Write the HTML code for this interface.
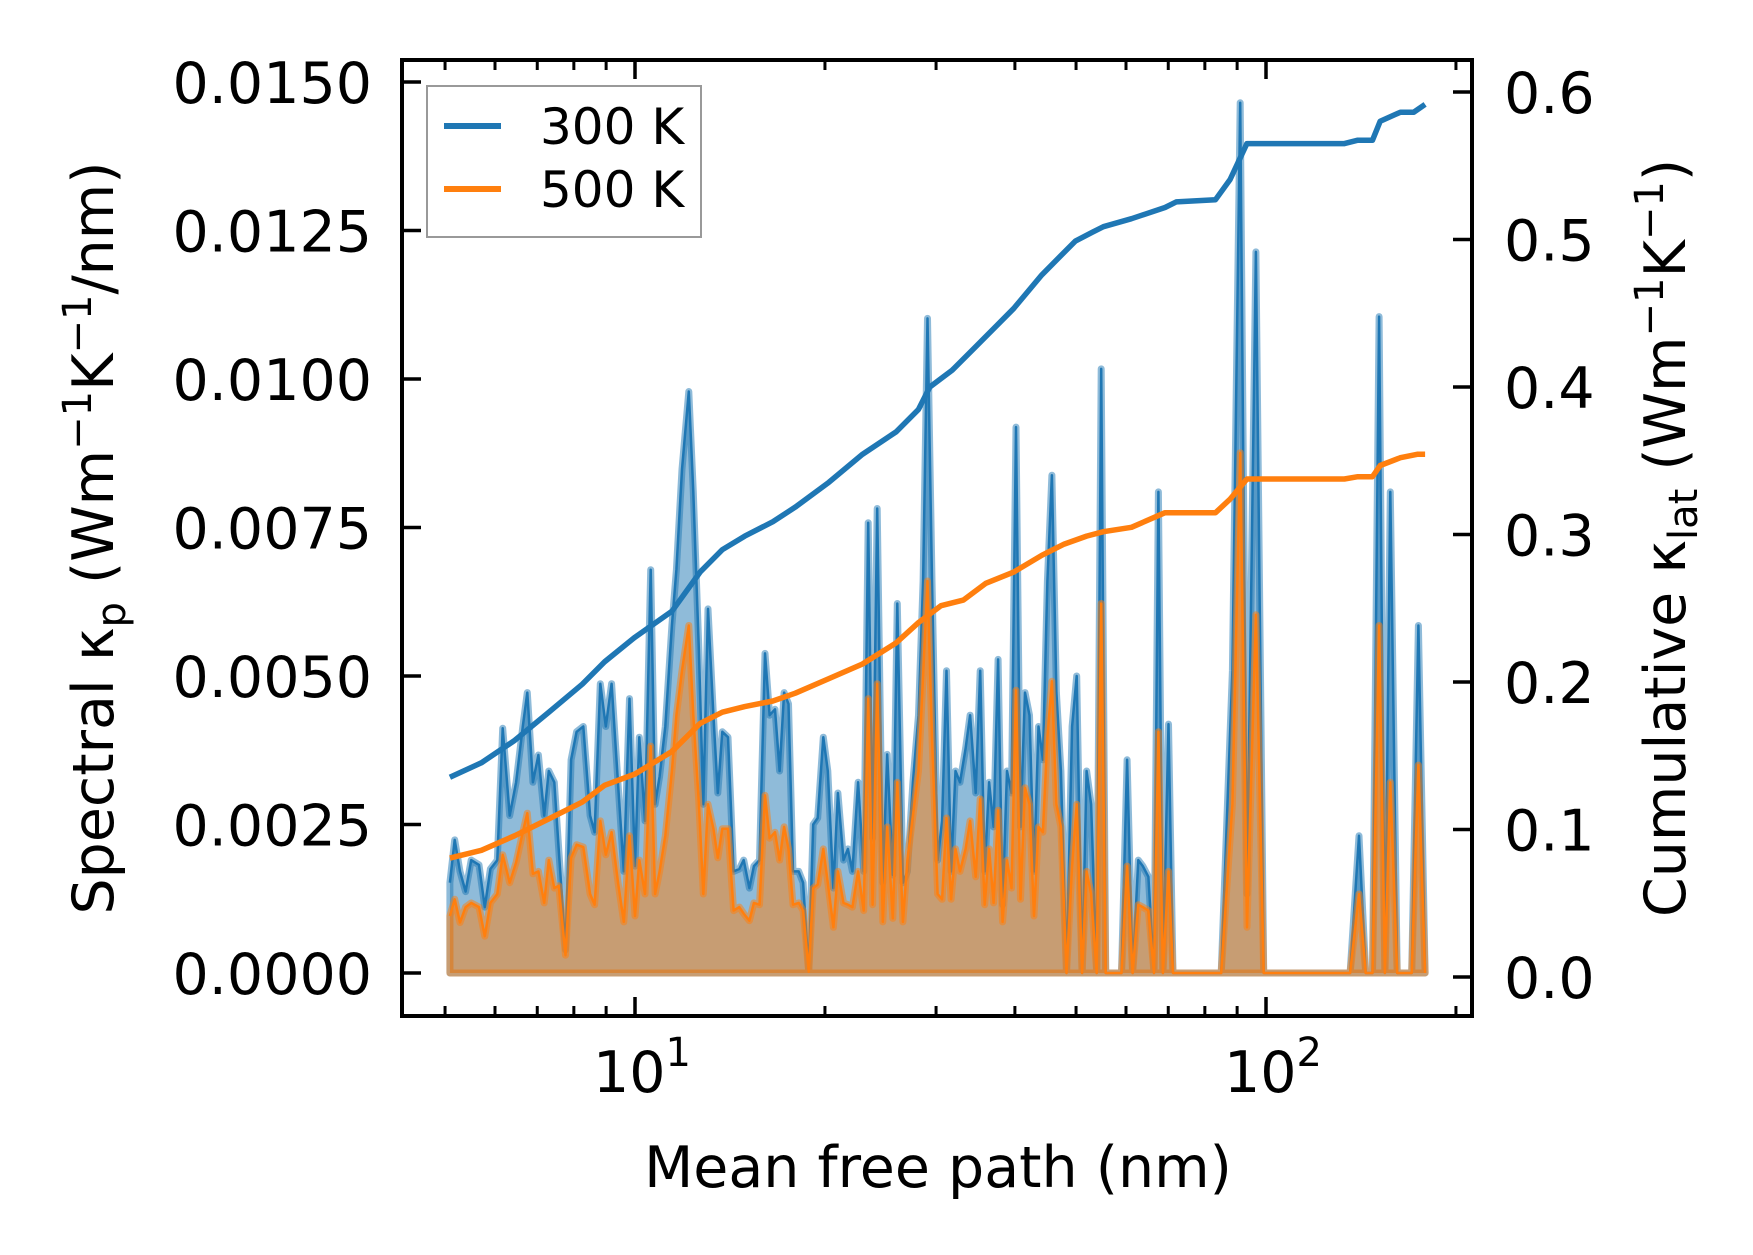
<!DOCTYPE html>
<html><head><meta charset="utf-8"><style>
html,body{margin:0;padding:0;background:#fff;}
svg{display:block;font-family:"DejaVu Sans","Liberation Sans",sans-serif;}
</style></head><body>
<svg id="chart" width="1753" height="1255" viewBox="0 0 1753 1255" xmlns="http://www.w3.org/2000/svg">
<g id="series"></g>
<g id="axes"></g>
<g id="legend">
  <rect x="427" y="86" width="274" height="151" fill="#fff" fill-opacity="0.85" stroke="#999" stroke-width="2"/>
  <line x1="444" y1="126" x2="501" y2="126" stroke="#1f77b4" stroke-width="6"/>
  <text x="540" y="144" font-size="50">300 K</text>
  <line x1="444" y1="189" x2="501" y2="189" stroke="#ff7f0e" stroke-width="6"/>
  <text x="540" y="207" font-size="50">500 K</text>
</g>
<text x="938" y="1187" font-size="57" text-anchor="middle">Mean free path (nm)</text>
<text transform="translate(113,538) rotate(-90)" font-size="57" text-anchor="middle">Spectral κ<tspan font-size="40" dy="12">p</tspan><tspan dy="-12"> (Wm</tspan><tspan font-size="40" dy="-22">−1</tspan><tspan dy="22">K</tspan><tspan font-size="40" dy="-22">−1</tspan><tspan dy="22">/nm)</tspan></text>
<text transform="translate(1685,538) rotate(-90)" font-size="57" text-anchor="middle">Cumulative κ<tspan font-size="40" dy="12">lat</tspan><tspan dy="-12"> (Wm</tspan><tspan font-size="40" dy="-22">−1</tspan><tspan dy="22">K</tspan><tspan font-size="40" dy="-22">−1</tspan><tspan dy="22">)</tspan></text>
</svg>
<script>
const mfp = [5.09,5.18,5.28,5.39,5.50,5.66,5.78,5.90,6.05,6.17,6.33,6.48,6.64,6.75,6.89,7.03,7.18,7.30,7.45,7.57,
7.76,7.92,8.08,8.28,8.49,8.63,8.81,8.99,9.18,9.41,9.60,9.80,10.0,10.16,10.37,10.59,10.76,10.94,11.17,11.44,
11.63,11.87,12.17,12.37,12.62,12.83,13.05,13.31,13.53,13.75,14.04,14.33,14.63,14.87,15.18,15.43,15.75,16.07,16.34,16.67,16.95,17.23,
17.51,17.80,18.17,18.47,18.85,19.16,19.48,19.88,20.21,20.63,20.97,21.40,21.75,22.11,22.57,23.04,23.42,23.80,24.20,24.70,25.10,25.62,26.04,
26.58,27.02,27.57,28.14,28.61,29.08,29.56,30.17,30.67,31.17,31.69,32.21,32.74,33.42,33.97,34.67,35.24,35.82,36.41,37.01,37.62,38.24,38.87,39.51,
40.16,40.83,41.50,42.19,42.88,43.59,44.31,45.04,45.78,46.54,47.31,48.29,49.29,50.11,51.12,51.97,52.83,53.92,54.81,55.72,56.64,57.81,59.02,
60.24,61.47,62.74,63.78,65.10,66.45,67.53,68.64,70.06,71.22,72.69,73.89,75.10,76.97,
83.19,84.91,88.45,91.03,93.30,96.38,99.18,104.2,135.9,140.4,143.9,147.5,151.1,154.3,157.4,161.4,164.7,170.2,174.4,178.7];
const spec300 = [.00152,.00224,.00171,.00137,.00190,.00182,.00111,.00175,.00190,.00412,.00265,.00321,.00415,.00472,.00321,.00367,.00265,.00340,.00321,.00209,
.00039,.00359,.00406,.00415,.00265,.00237,.00487,.00415,.00487,.00312,.00171,.00462,.00180,.00397,.00256,.00679,.00284,.00331,.00415,.00585,
.00679,.00848,.00979,.00810,.00547,.00284,.00613,.00434,.00303,.00406,.00397,.00171,.00175,.00190,.00143,.00180,.00190,.00538,.00434,.00444,.00340,.00472,
.00453,.00171,.00171,.00152,.00002,.00250,.00261,.00397,.00340,.00143,.00303,.00190,.00209,.00171,.00321,.00171,.00758,.00227,.00782,.00152,.00368,.00165,.00622,
.00152,.00171,.00321,.00434,.00660,.01102,.00660,.00190,.00256,.00509,.00171,.00340,.00321,.00378,.00434,.00303,.00509,.00171,.00321,.00246,.00528,.00115,.00340,.00303,
.00919,.00246,.00472,.00434,.00171,.00415,.00359,.00660,.00838,.00472,.00340,0,.00415,.00500,0,.00340,.00284,0,.01017,0,0,0,0,
.00359,0,.00190,.00180,.00162,0,.00810,0,.00419,0,0,0,0,0,
0,0,.00509,.01465,.00133,.01214,0,0,0,.00231,0,0,.01105,0,.00810,0,0,0,.00585,0];
const spec500 = [.00096,.00124,.00085,.00111,.00118,.00111,.00062,.00118,.00133,.00199,.00152,.00186,.00237,.00269,.00167,.00171,.00118,.00190,.00143,.00147,
.00030,.00194,.00216,.00212,.00133,.00115,.00256,.00199,.00237,.00149,.00086,.00231,.00096,.00190,.00133,.00382,.00133,.00171,.00231,.00340,
.00434,.00509,.00585,.00434,.00288,.00133,.00284,.00243,.00194,.00243,.00243,.00105,.00111,.00100,.00088,.00118,.00115,.00299,.00227,.00237,.00190,.00246,
.00209,.00115,.00118,.00105,.00002,.00143,.00149,.00209,.00152,.00077,.00171,.00118,.00115,.00111,.00171,.00105,.00462,.00115,.00487,.00086,.00246,.00092,.00321,
.00086,.00190,.00265,.00340,.00500,.00660,.00397,.00133,.00124,.00261,.00124,.00209,.00171,.00209,.00256,.00162,.00293,.00115,.00209,.00118,.00274,.00086,.00190,.00143,
.00476,.00124,.00312,.00284,.00096,.00246,.00237,.00397,.00491,.00284,.00246,0,.00180,.00284,0,.00171,.00133,0,.00622,0,0,0,0,
.00180,0,.00115,.00111,.00105,0,.00406,0,.00171,0,0,0,0,0,
0,0,.00284,.00876,.00077,.00603,0,0,0,.00133,0,0,.00585,0,.00321,0,0,0,.00350,0];
const cumX300 = [5.09,5.71,6.45,7.30,8.25,8.95,10.0,11.44,12.68,13.75,14.93,16.54,17.95,20.29,22.94,25.94,28.14,29.32,31.82,34.53,
37.47,39.83,44.13,46.92,49.89,53.04,55.25,61.21,69.18,72.07,83.18,87.73,93.27,133.1,139.8,147.5,151.7,163.3,171.5,178.7];
const cum300 = [.1354,.1452,.1605,.1795,.1985,.2137,.2304,.2479,.2745,.2897,.2989,.3087,.3186,.3354,.3544,.3696,.3848,.4,.4114,.4266,
.4418,.4532,.4760,.4875,.4989,.5049,.5087,.5141,.5217,.5255,.5270,.5407,.5650,.5650,.5673,.5673,.5802,.5863,.5863,.5916];
const cumX500 = [5.09,5.71,6.45,7.30,8.25,8.95,10.0,11.44,12.68,13.75,14.93,16.54,17.95,20.29,22.94,25.94,28.14,30.54,33.15,35.97,
39.83,44.13,47.89,51.97,55.25,61.21,69.18,83.18,87.73,93.27,133.1,139.8,147.5,151.7,163.3,173.6,178.7];
const cum500 = [.0806,.0859,.0958,.1072,.1186,.1300,.1376,.1529,.1719,.1795,.1833,.1871,.1924,.2023,.2122,.2266,.2403,.2517,.2555,.2669,
.2745,.2859,.2935,.2989,.3019,.3049,.3148,.3148,.3240,.3376,.3376,.3392,.3392,.3468,.3521,.3544,.3544];
const leftTicks = [0,0.0025,0.005,0.0075,0.01,0.0125,0.015];
const leftTickLabels = ["0.0000","0.0025","0.0050","0.0075","0.0100","0.0125","0.0150"];
const rightTicks = [0,0.1,0.2,0.3,0.4,0.5,0.6];
const rightTickLabels = ["0.0","0.1","0.2","0.3","0.4","0.5","0.6"];
const xMajor = [10,100];
const xMajorExp = ["1","2"];
const xMinor = [5,6,7,8,9,20,30,40,50,60,70,80,90,200];

const NS="http://www.w3.org/2000/svg";
const L=402,R=1472,T=60,B=1016;
const xs=v=>635+(Math.log10(v)-1)*631;
const yl=v=>973-v*59400;
const yr=v=>977-v*1475;
function mk(tag,attrs,parent){const e=document.createElementNS(NS,tag);for(const k in attrs)e.setAttribute(k,attrs[k]);parent.appendChild(e);return e;}
const S=document.getElementById('series'), A=document.getElementById('axes');

function area(vals,color,name){
  let d=`M${xs(mfp[0])},${yl(0)}`;
  vals.forEach((v,i)=>{d+=` L${xs(mfp[i]).toFixed(1)},${yl(v).toFixed(1)}`;});
  d+=` L${xs(mfp[mfp.length-1])},${yl(0)} Z`;
  const p=mk('path',{d:d,fill:color,'fill-opacity':0.5,stroke:color,'stroke-opacity':0.5,'stroke-width':7,'stroke-linejoin':'round'},S);
  
  
  const pts=vals.map((v,i)=>`${xs(mfp[i]).toFixed(1)},${yl(v).toFixed(1)}`).join(' ');
  const l=mk('polyline',{points:pts,fill:'none',stroke:color,'stroke-width':2.5,'stroke-linejoin':'round'},S);
  
  
}
area(spec300,'#1f77b4','spectral-300k');
area(spec500,'#ff7f0e','spectral-500k');
function cumLine(xv,vals,color,name){
  const pts=vals.map((v,i)=>`${xs(xv[i]).toFixed(1)},${yr(v).toFixed(1)}`).join(' ');
  const l=mk('polyline',{points:pts,fill:'none',stroke:color,'stroke-width':5.5,'stroke-linejoin':'round'},S);
  
  
}
cumLine(cumX300,cum300,'#1f77b4','cumulative-300k-line');
cumLine(cumX500,cum500,'#ff7f0e','cumulative-500k-line');

const frame=mk('rect',{x:L,y:T,width:R-L,height:B-T,fill:'none',stroke:'#000','stroke-width':4},A);


leftTicks.forEach((v,i)=>{
  const y=yl(v);
  const t=mk('line',{x1:L,x2:L+19,y1:y,y2:y,stroke:'#000','stroke-width':3.5},A);
  
  
  const tx=mk('text',{x:L-30,y:y+21,'font-size':57,'text-anchor':'end'},A);
  tx.textContent=leftTickLabels[i];
  
  
});
rightTicks.forEach((v,i)=>{
  const y=yr(v);
  const t=mk('line',{x1:R-19,x2:R,y1:y,y2:y,stroke:'#000','stroke-width':3.5},A);
  
  
  const tx=mk('text',{x:R+32,y:y+21,'font-size':57},A);
  tx.textContent=rightTickLabels[i];
  
  
});
xMajor.forEach((v,i)=>{
  const x=xs(v);
  [[B-19,B],[T,T+19]].forEach(([a,b])=>{
    const t=mk('line',{x1:x,x2:x,y1:a,y2:b,stroke:'#000','stroke-width':3.5},A);
    
    
  });
  const tx=mk('text',{x:x-42,y:1092,'font-size':57},A);
  tx.textContent='10';
  const sup=mk('tspan',{'font-size':40,dy:-26},tx);
  sup.textContent=xMajorExp[i];
  
  
});
xMinor.forEach(v=>{
  const x=xs(v);
  [[B-10,B],[T,T+10]].forEach(([a,b])=>{
    const t=mk('line',{x1:x,x2:x,y1:a,y2:b,stroke:'#000','stroke-width':3},A);
    
    
  });
});
</script>
</body></html>
